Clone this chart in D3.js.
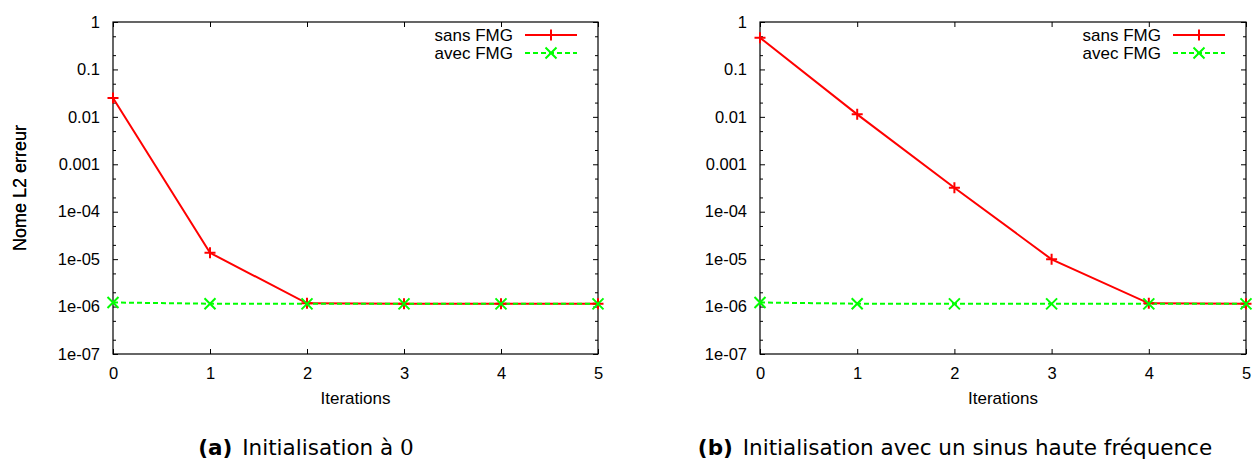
<!DOCTYPE html>
<html>
<head>
<meta charset="utf-8">
<script src="https://cdn.jsdelivr.net/npm/d3@7"></script>
<style>
  body { margin: 0; background: #fff; }
  svg text { font-family: "Liberation Sans", Arial, sans-serif; fill: #000; }
  .tick line { stroke: #000; }
  .caption { font-family: "DejaVu Sans", sans-serif; font-size: 21.5px; }
</style>
</head>
<body>
<div class="chart"></div>
<script>
var svgWidth = 1254;
var svgHeight = 467;

// data
var iterations = [0, 1, 2, 3, 4, 5];
var sansFMG_a = [2.5e-2, 1.36e-5, 1.17e-6, 1.15e-6, 1.15e-6, 1.15e-6];
var avecFMG_a = [1.22e-6, 1.15e-6, 1.14e-6, 1.14e-6, 1.14e-6, 1.14e-6];
var sansFMG_b = [0.466, 1.13e-2, 3.2e-4, 9.9e-6, 1.17e-6, 1.15e-6];
var avecFMG_b = [1.22e-6, 1.15e-6, 1.14e-6, 1.14e-6, 1.14e-6, 1.14e-6];

var yTicks = [1, 0.1, 0.01, 0.001, 1e-4, 1e-5, 1e-6, 1e-7];
var yTickLabels = ["1", "0.1", "0.01", "0.001", "1e-04", "1e-05", "1e-06", "1e-07"];
var seriesNames = ["sans FMG", "avec FMG"];

var svg = d3.select(".chart")
  .append("svg")
  .attr("width", svgWidth)
  .attr("height", svgHeight);

// minor ticks at 2 and 5 in each decade
var minorTicks = [];
yTicks.forEach(function(t) {
  if (t < 1) { minorTicks.push(t * 2); minorTicks.push(t * 5); }
});

function drawPanel(left, right, sans, avec, caption, captionX) {
  var top = 22, bottom = 354;
  var x = d3.scaleLinear().domain([0, 5]).range([left, right]);
  var y = d3.scaleLog().domain([1e-7, 1]).range([bottom, top]);

  var g = svg.append("g");

  // left axis
  g.append("g")
    .attr("transform", "translate(" + left + ",0)")
    .call(d3.axisLeft(y).tickValues(yTicks).tickSize(-5).tickPadding(13)
      .tickFormat(function(d, i) { return yTickLabels[i]; }))
    .call(function(a) { a.select(".domain").remove(); })
    .selectAll("text").style("font-size", "16.5px");
  g.append("g")
    .attr("transform", "translate(" + left + ",0)")
    .call(d3.axisLeft(y).tickValues(minorTicks).tickSize(-3).tickFormat(""))
    .call(function(a) { a.select(".domain").remove(); });

  // right axis (mirror)
  g.append("g")
    .attr("transform", "translate(" + right + ",0)")
    .call(d3.axisRight(y).tickValues(yTicks).tickSize(-5).tickFormat(""))
    .call(function(a) { a.select(".domain").remove(); });
  g.append("g")
    .attr("transform", "translate(" + right + ",0)")
    .call(d3.axisRight(y).tickValues(minorTicks).tickSize(-3).tickFormat(""))
    .call(function(a) { a.select(".domain").remove(); });

  // bottom + top
  g.append("g")
    .attr("transform", "translate(0," + bottom + ")")
    .call(d3.axisBottom(x).tickValues(iterations).tickSize(-5).tickPadding(13)
      .tickFormat(d3.format("d")))
    .call(function(a) { a.select(".domain").remove(); })
    .selectAll("text").style("font-size", "16.5px");
  g.append("g")
    .attr("transform", "translate(0," + top + ")")
    .call(d3.axisTop(x).tickValues(iterations).tickSize(-5).tickFormat(""))
    .call(function(a) { a.select(".domain").remove(); });

  // border
  g.append("rect")
    .attr("x", left).attr("y", top)
    .attr("width", right - left).attr("height", bottom - top)
    .attr("fill", "none").attr("stroke", "#000").attr("stroke-width", 1.2);

  // axis labels
  g.append("text")
    .attr("transform", "translate(26," + ((top + bottom) / 2) + ") rotate(-90)")
    .attr("text-anchor", "middle")
    .style("font-size", "18px")
    .text("Nome L2 erreur");
  g.append("text")
    .attr("x", (left + right) / 2).attr("y", 404)
    .attr("text-anchor", "middle")
    .style("font-size", "17px")
    .text("Iterations");

  var line = d3.line()
    .x(function(d, i) { return x(iterations[i]); })
    .y(function(d) { return y(d); });

  var plot = g.append("g");

  // sans FMG (red, solid, +)
  plot.append("path").datum(sans)
    .attr("d", line).attr("fill", "none")
    .attr("stroke", "#ff0000").attr("stroke-width", 2);
  // avec FMG (green, dashed, x)
  plot.append("path").datum(avec)
    .attr("d", line).attr("fill", "none")
    .attr("stroke", "#00ff00").attr("stroke-width", 2)
    .attr("stroke-dasharray", "5,3");

  function plus(sel, cx, cy) {
    sel.append("path")
      .attr("d", "M" + (cx - 5.5) + "," + cy + "H" + (cx + 5.5) + "M" + cx + "," + (cy - 5.5) + "V" + (cy + 5.5))
      .attr("stroke", "#ff0000").attr("stroke-width", 2).attr("fill", "none");
  }
  function cross(sel, cx, cy) {
    sel.append("path")
      .attr("d", "M" + (cx - 5.5) + "," + (cy - 5.5) + "L" + (cx + 5.5) + "," + (cy + 5.5) +
                 "M" + (cx - 5.5) + "," + (cy + 5.5) + "L" + (cx + 5.5) + "," + (cy - 5.5))
      .attr("stroke", "#00ff00").attr("stroke-width", 2).attr("fill", "none");
  }
  sans.forEach(function(d, i) { plus(plot, x(iterations[i]), y(d)); });
  avec.forEach(function(d, i) { cross(plot, x(iterations[i]), y(d)); });

  // legend
  var ly = [35, 53];
  seriesNames.forEach(function(name, i) {
    g.append("text")
      .attr("x", right - 85).attr("y", ly[i])
      .attr("dy", "0.35em")
      .attr("text-anchor", "end")
      .style("font-size", "17px")
      .text(name);
    var l = g.append("line")
      .attr("x1", right - 73).attr("x2", right - 21)
      .attr("y1", ly[i]).attr("y2", ly[i])
      .attr("stroke", i === 0 ? "#ff0000" : "#00ff00")
      .attr("stroke-width", 2);
    if (i === 1) l.attr("stroke-dasharray", "5,3");
    if (i === 0) plus(g, right - 47, ly[i]); else cross(g, right - 47, ly[i]);
  });

  // caption
  var c = svg.append("text")
    .attr("class", "caption")
    .attr("x", captionX).attr("y", 455)
    .attr("text-anchor", "middle");
  c.append("tspan").style("font-weight", "bold").text(caption[0]);
  c.append("tspan").attr("dx", 3).text(caption[1]);
  if (caption[2]) {
    c.append("tspan").style("font-family", "'DejaVu Serif', serif").text(caption[2]);
  }
}

drawPanel(113, 598, sansFMG_a, avecFMG_a, ["(a)", " Initialisation à ", "0"], 306);
drawPanel(760, 1246, sansFMG_b, avecFMG_b, ["(b)", " Initialisation avec un sinus haute fréquence"], 955);
</script>
</body>
</html>
